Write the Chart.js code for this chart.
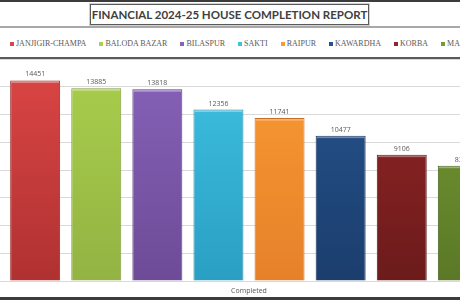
<!DOCTYPE html>
<html>
<head>
<meta charset="utf-8">
<script src="https://cdn.jsdelivr.net/npm/chart.js@4.4.1/dist/chart.umd.min.js"></script>
<style>
  html, body { margin: 0; padding: 0; }
  body { width: 460px; height: 300px; overflow: hidden; position: relative; background: #fff; }
  .line { position: absolute; left: 0; width: 460px; }
  #title { position: absolute; left: 90px; top: 4px; width: 277px; height: 19px; border: 1px solid #5a5a5a;
           box-shadow: 0 0 0 1px #d0d0d0; font: bold 11.5px Lato, "Liberation Sans", sans-serif; color: #404040;
           text-align: center; line-height: 20px; white-space: nowrap; }
  #legend { position: absolute; left: 10px; top: 38px; display: flex; gap: 13px; white-space: nowrap;
            font: 8px "Liberation Serif", "DejaVu Serif", serif; color: #595959; line-height: 12px; }
  #legend span.item { display: flex; align-items: center; }
  #legend i { display: inline-block; width: 4px; height: 4px; margin-right: 2px; }
  #wrap { position: absolute; left: 0; top: 55px; width: 498px; height: 250px; }
</style>
</head>
<body>
<div class="line" style="top:0;height:2px;background:#3c3c3c"></div>
<div id="title"></div>
<div class="line" style="top:26px;height:2px;background:#a8a8a8"></div>
<div id="legend"></div>
<div class="line" style="top:57px;height:2px;background:#5a5a5a"></div>
<div id="wrap"><canvas id="c" width="498" height="250"></canvas></div>
<div class="line" style="top:297px;height:3px;background:#3c3c3c"></div>
<script>
const titleText = "FINANCIAL 2024-25 HOUSE COMPLETION REPORT";
const categories = ["Completed"];
const districts = ["JANJIGIR-CHAMPA", "BALODA BAZAR", "BILASPUR", "SAKTI", "RAIPUR", "KAWARDHA", "KORBA", "MAHASAMUND"];
const completed = [14451, 13885, 13818, 12356, 11741, 10477, 9106, 8310];
const topColors = ["#dc4646", "#a9cf4c", "#8762b9", "#3ec1e2", "#f99a32", "#26538d", "#942527", "#749b32"];
const bottomColors = ["#b03131", "#93b343", "#6e4b97", "#2a9fc3", "#e6812a", "#1b3e6d", "#6c1b1b", "#5b7827"];
const edgeColors = ["#9b2a2a", "#7f9c3a", "#5e4083", "#248aa8", "#c96f24", "#15325a", "#5a1717", "#4b6420"];
const yTicks = { min: 0, max: 16000, step: 2000 };

document.getElementById('title').textContent = titleText;
const legendEl = document.getElementById('legend');
districts.forEach((d, i) => {
  const s = document.createElement('span'); s.className = 'item';
  const m = document.createElement('i'); m.style.background = topColors[i];
  s.appendChild(m); s.appendChild(document.createTextNode(d));
  legendEl.appendChild(s);
});

function grad(i) {
  return (ctx) => {
    const ch = ctx.chart; const a = ch.chartArea;
    if (!a) return topColors[i];
    const g = ch.ctx.createLinearGradient(0, a.top, 0, a.bottom);
    g.addColorStop(0, topColors[i]);
    g.addColorStop(1, bottomColors[i]);
    return g;
  };
}

const datasets = districts.map((d, i) => ({
  label: d,
  data: [completed[i]],
  backgroundColor: grad(i),
  borderColor: edgeColors[i],
  borderWidth: 1,
  categoryPercentage: 0.9815,
  barPercentage: 0.818
}));

const labelPlugin = {
  id: 'vals',
  afterDatasetsDraw(chart) {
    const ctx = chart.ctx;
    ctx.save();
    ctx.font = '7px "Open Sans", sans-serif';
    ctx.textAlign = 'center';
    ctx.textBaseline = 'alphabetic';
    chart.data.datasets.forEach((ds, di) => {
      const meta = chart.getDatasetMeta(di);
      meta.data.forEach((bar, j) => {
        ctx.fillStyle = 'rgba(255,255,255,0.35)';
        ctx.fillRect(bar.x - bar.width / 2 + 1, bar.y + 1, bar.width - 2, 1.5);
        ctx.fillStyle = '#595959';
        ctx.fillText(String(ds.data[j]), bar.x, bar.y - 4);
      });
    });
    ctx.restore();
  }
};

new Chart(document.getElementById('c'), {
  type: 'bar',
  data: { labels: categories, datasets },
  options: {
    responsive: false,
    animation: false,
    layout: { padding: { top: 4, left: 0, right: 0, bottom: 3.6 } },
    plugins: { legend: { display: false }, title: { display: false }, tooltip: { enabled: false } },
    scales: {
      x: {
        grid: { display: false, drawTicks: false },
        border: { display: false },
        ticks: { color: '#595959', font: { family: 'Open Sans', size: 7 }, padding: 6 }
      },
      y: {
        min: yTicks.min, max: yTicks.max,
        grid: { color: '#d9d9d9', drawTicks: false, lineWidth: 1 },
        border: { display: false },
        ticks: { display: false, stepSize: yTicks.step }
      }
    }
  },
  plugins: [labelPlugin]
});
</script>
</body>
</html>
